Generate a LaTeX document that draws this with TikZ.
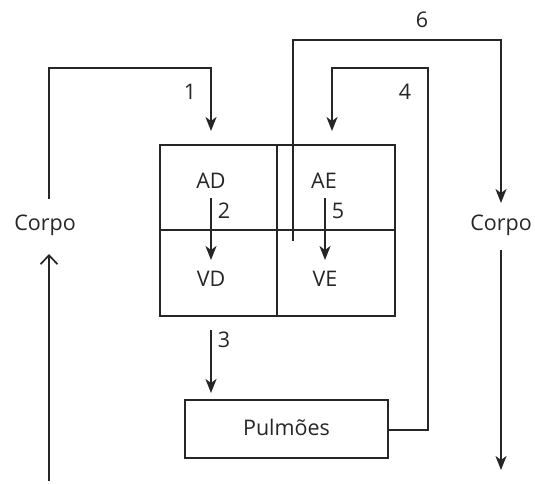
\documentclass[tikz,border=0pt]{standalone}
\usepackage{fontspec}
\setmainfont{Open Sans}
\usetikzlibrary{arrows.meta}
\begin{document}
\begin{tikzpicture}[x=1pt,y=-1pt,
  line/.style={draw=black!85, line width=1.7pt},
  arr/.style={line, -{Stealth[length=14pt,width=11pt,inset=4pt]}},
  openarr/.style={line, -{Straight Barb[length=9pt,width=17pt]}},
  lbl/.style={font=\fontsize{21.5}{26}\selectfont, text=black!85, inner sep=0pt, anchor=base},
  box/.style={line, inner sep=0pt}]
\useasboundingbox (0,0) rectangle (535,483);
% heart box
\node[box, minimum width=235pt, minimum height=171pt] (heart) at (277.5,230.5) {};
\draw[line] (277,145) -- (277,316);
\draw[line] (160,230) -- (395,230);
% cell labels
\node[lbl] (AD) at (211,188) {AD};
\node[lbl] (AE) at (324,188) {AE};
\node[lbl] (VD) at (211,286) {VD};
\node[lbl] (VE) at (325,286) {VE};
% Corpo labels
\node[lbl] (corpoL) at (45,230) {Corpo};
\node[lbl] (corpoR) at (501,230) {Corpo};
% lungs
\node[box, minimum width=203pt, minimum height=58pt] (pulm) at (286.5,429) {};
\node[lbl] (pulmtxt) at (286.5,435) {Pulmões};
% coordinates
\coordinate (c1s) at (49,199);
\coordinate (c1a) at (49,68);
\coordinate (c1b) at (211,68);
\coordinate (c1e) at (211,131);
\coordinate (c2s) at (211,198);
\coordinate (c2e) at (211,260);
\coordinate (c5s) at (325,198);
\coordinate (c5e) at (325,260);
\coordinate (c3s) at (211,330);
\coordinate (c3e) at (211,393);
\coordinate (c4a) at (428,430);
\coordinate (c4b) at (428,68);
\coordinate (c4c) at (332,68);
\coordinate (c4e) at (332,131);
\coordinate (c6s) at (293,241);
\coordinate (c6a) at (293,40);
\coordinate (c6b) at (501,40);
\coordinate (c6e) at (501,203);
\coordinate (cLs) at (49,481);
\coordinate (cLe) at (49,254);
\coordinate (cRs) at (501,250);
\coordinate (cRe) at (501,470);
% connectors
\draw[arr] (c1s) -- (c1a) -- (c1b) -- (c1e);
\draw[arr] (c2s) -- (c2e);
\draw[arr] (c5s) -- (c5e);
\draw[arr] (c3s) -- (c3e);
\draw[arr] (pulm.east |- c4a) -- (c4a) -- (c4b) -- (c4c) -- (c4e);
\draw[arr] (c6s) -- (c6a) -- (c6b) -- (c6e);
\draw[openarr] (cLs) -- (cLe);
\draw[arr] (cRs) -- (cRe);
% number labels
\node[lbl] at (190,99) {1};
\node[lbl] at (224,218) {2};
\node[lbl] at (224,347) {3};
\node[lbl] at (405,99) {4};
\node[lbl] at (338,218) {5};
\node[lbl] at (422,27) {6};
\end{tikzpicture}
\end{document}
